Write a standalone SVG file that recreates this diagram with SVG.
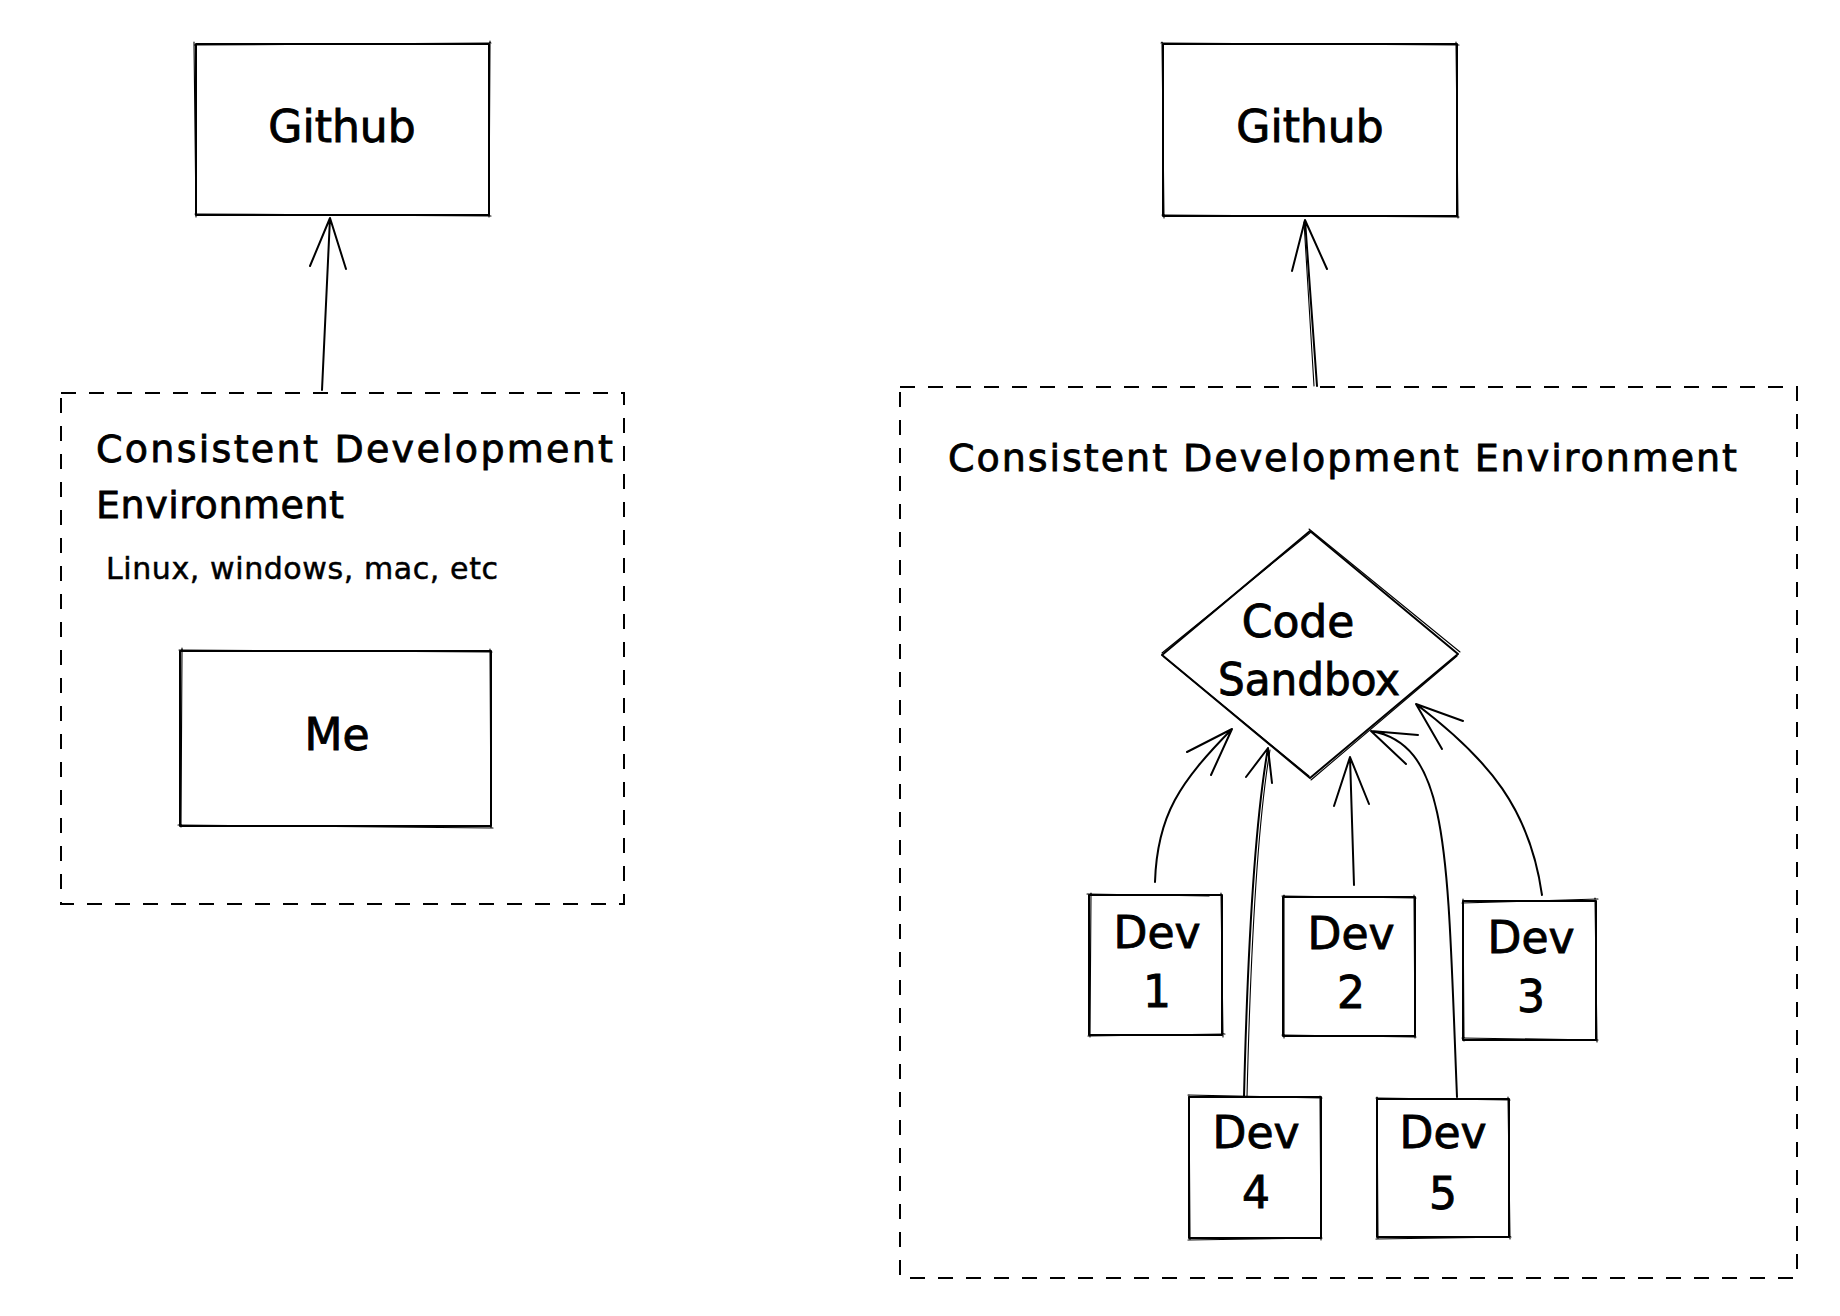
<svg xmlns="http://www.w3.org/2000/svg" width="1840" height="1316" viewBox="0 0 1840 1316">
<style>
.box{fill:none;stroke:#000;stroke-width:2;stroke-linejoin:round}
.sk{fill:none;stroke:#000;stroke-width:1.1;stroke-linecap:round}
.dash{fill:none;stroke:#000;stroke-width:2;stroke-dasharray:15 13}
.conn{fill:none;stroke:#000;stroke-width:2;stroke-linecap:round;stroke-linejoin:round}
.lbl{font-family:"DejaVu Sans",sans-serif;font-size:44px;fill:#000;stroke:#000;stroke-width:0.9;text-anchor:middle}
.title{font-family:"DejaVu Sans",sans-serif;font-size:38px;fill:#000;stroke:#000;stroke-width:0.8}
.small{font-family:"DejaVu Sans",sans-serif;font-size:30px;fill:#000;stroke:#000;stroke-width:0.5}
</style>
<rect width="1840" height="1316" fill="#fff"/>

<g id="env-left">
<path class="dash" d="M61 393 L624 393 L624 904 L61 904 Z"/>
<text class="title" x="96" y="462" textLength="517" lengthAdjust="spacing">Consistent Development</text>
<text class="title" x="96" y="518" textLength="248" lengthAdjust="spacing">Environment</text>
<text class="small" x="106" y="579" textLength="392" lengthAdjust="spacing">Linux, windows, mac, etc</text>
</g>

<g id="env-right">
<path class="dash" d="M900 387 L1797 387 L1797 1278 L900 1278 Z"/>
<text class="title" x="948" y="471" textLength="789" lengthAdjust="spacing">Consistent Development Environment</text>
</g>

<g id="github-left">
<rect class="box" x="196" y="44" width="293" height="171"/>
<path class="sk" d="M194 45 L491 43 M490 41 L489 217 M491 216 L195 214 M196 217 L194 42"/>
<text class="lbl" x="342" y="142">Github</text>
</g>

<g id="github-right">
<rect class="box" x="1163" y="44" width="294" height="172"/>
<path class="sk" d="M1161 43 L1459 45 M1456 42 L1458 218 M1459 217 L1162 215 M1164 218 L1162 42"/>
<text class="lbl" x="1310" y="142">Github</text>
</g>

<g id="me">
<rect class="box" x="180" y="651" width="311" height="175"/>
<path class="sk" d="M179 650 L492 652 M490 649 L491 828 M493 828 L178 825 M181 827 L182 648"/>
<text class="lbl" x="337" y="750">Me</text>
</g>

<g id="codesandbox">
<path class="box" d="M1310 531 L1458 654 L1310 778 L1162 655 Z"/>
<path class="sk" d="M1309 529 L1460 652 M1457 656 L1311 780 M1162 653 L1311 532 M1164 657 L1309 776"/>
<text class="lbl" x="1298" y="637">Code</text>
<text class="lbl" x="1309" y="695" textLength="182" lengthAdjust="spacingAndGlyphs">Sandbox</text>
</g>

<g id="dev1">
<rect class="box" x="1089" y="895" width="133" height="140"/>
<path class="sk" d="M1087 894 L1209 896 M1221 893 L1223 1037 M1225 1034 L1088 1036 M1090 1037 L1091 893"/>
<text class="lbl" x="1157" y="948">Dev</text>
<text class="lbl" x="1157" y="1007">1</text>
</g>

<g id="dev2">
<rect class="box" x="1283" y="897" width="132" height="139"/>
<path class="sk" d="M1282 896 L1416 898 M1414 895 L1415 1038 M1416 1037 L1282 1035 M1284 1038 L1284 895"/>
<text class="lbl" x="1351" y="949">Dev</text>
<text class="lbl" x="1351" y="1008">2</text>
</g>

<g id="dev3">
<rect class="box" x="1463" y="901" width="133" height="139"/>
<path class="sk" d="M1462 903 L1598 899 M1595 898 L1597 1042 M1598 1040 L1462 1038 M1464 1041 L1463 899"/>
<text class="lbl" x="1531" y="953">Dev</text>
<text class="lbl" x="1531" y="1012">3</text>
</g>

<g id="dev4">
<rect class="box" x="1189" y="1097" width="132" height="141"/>
<path class="sk" d="M1188 1095 L1322 1098 M1320 1096 L1321 1240 M1322 1238 L1188 1240 M1190 1239 L1189 1095"/>
<text class="lbl" x="1256" y="1148">Dev</text>
<text class="lbl" x="1256" y="1208">4</text>
</g>

<g id="dev5">
<rect class="box" x="1377" y="1099" width="132" height="138"/>
<path class="sk" d="M1376 1098 L1510 1100 M1508 1097 L1510 1239 M1511 1237 L1376 1239 M1378 1238 L1377 1097"/>
<text class="lbl" x="1443" y="1148">Dev</text>
<text class="lbl" x="1443" y="1209">5</text>
</g>

<g id="connectors">
<path class="conn" d="M322 390 L330 218 M310 266 L330 218 L346 269"/>
<path class="conn" d="M1317 386 L1305 220 M1292 271 L1305 220 L1327 269"/>
<path class="sk" d="M1314 386 L1304 222"/>
<path class="conn" d="M1155 882 C1157 815 1180 782 1232 729 M1187 752 L1232 729 L1211 775"/>
<path class="conn" d="M1244 1097 Q1250 850 1268 748 M1246 777 L1268 748 L1272 783"/>
<path class="sk" d="M1247 1097 Q1253 850 1270 750"/>
<path class="conn" d="M1354 885 L1350 757 M1334 806 L1350 757 L1369 804"/>
<path class="conn" d="M1457 1097 C1447 850 1450 745 1371 731 M1418 735 L1371 731 L1406 764"/>
<path class="conn" d="M1542 895 C1530 810 1490 760 1416 704 M1463 721 L1416 704 L1442 749"/>
</g>
</svg>
